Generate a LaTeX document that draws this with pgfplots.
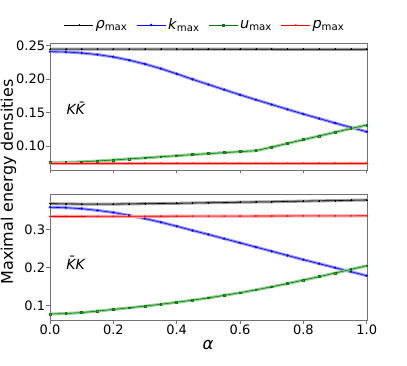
\documentclass[border=0pt]{standalone}
\usepackage{fontspec}
\setmainfont{DejaVu Sans}
\usepackage{pgfplots}
\pgfplotsset{compat=1.18}
\usepackage{pgfplotstable}

% K Kbar (top panel)
\pgfplotstableread{
a    rho    k      u      p
0.00 0.2450 0.2412 0.0750 0.0742
0.05 0.2450 0.2407 0.0754 0.0742
0.10 0.2450 0.2392 0.0762 0.0742
0.15 0.2450 0.2368 0.0775 0.0742
0.20 0.2449 0.2333 0.0790 0.0742
0.25 0.2449 0.2284 0.0806 0.0742
0.30 0.2449 0.2226 0.0822 0.0742
0.35 0.2449 0.2158 0.0838 0.0742
0.40 0.2449 0.2080 0.0854 0.0742
0.45 0.2448 0.1998 0.0870 0.0742
0.50 0.2448 0.1920 0.0885 0.0742
0.55 0.2448 0.1843 0.0900 0.0742
0.60 0.2448 0.1766 0.0915 0.0742
0.65 0.2448 0.1692 0.0929 0.0742
0.70 0.2448 0.1620 0.0982 0.0742
0.75 0.2447 0.1548 0.1038 0.0742
0.80 0.2447 0.1478 0.1094 0.0742
0.85 0.2447 0.1410 0.1150 0.0742
0.90 0.2447 0.1343 0.1205 0.0742
0.95 0.2447 0.1277 0.1260 0.0742
1.00 0.2447 0.1213 0.1313 0.0742
}\topdata

% Kbar K (bottom panel)
\pgfplotstableread{
a    rho    k      u      p
0.00 0.3670 0.3576 0.0783 0.3335
0.05 0.3665 0.3565 0.0795 0.3335
0.10 0.3660 0.3540 0.0820 0.3336
0.15 0.3660 0.3495 0.0860 0.3337
0.20 0.3660 0.3440 0.0903 0.3338
0.25 0.3665 0.3365 0.0945 0.3339
0.30 0.3670 0.3280 0.0990 0.3340
0.35 0.3675 0.3185 0.1038 0.3341
0.40 0.3680 0.3080 0.1089 0.3342
0.45 0.3688 0.2970 0.1145 0.3343
0.50 0.3695 0.2865 0.1205 0.3344
0.55 0.3700 0.2755 0.1270 0.3345
0.60 0.3710 0.2645 0.1340 0.3346
0.65 0.3715 0.2535 0.1415 0.3347
0.70 0.3720 0.2425 0.1495 0.3348
0.75 0.3730 0.2315 0.1580 0.3349
0.80 0.3737 0.2205 0.1670 0.3350
0.85 0.3745 0.2100 0.1760 0.3351
0.90 0.3750 0.1995 0.1855 0.3352
0.95 0.3760 0.1890 0.1950 0.3353
1.00 0.3767 0.1785 0.2045 0.3354
}\botdata

% thick pale band plus thin line with marks
\newcommand\series[4]{%
  \addplot[#1!40, line width=3pt, forget plot] table[x=a, y=#3] {#4};
  \addplot[#1, line width=0.6pt, mark=#2, mark size=0.9pt] table[x=a, y=#3] {#4};
}

\begin{document}
\fontsize{13}{15}\selectfont
\begin{tikzpicture}
\useasboundingbox (0pt,0pt) rectangle (407pt,-366pt);
\pgfplotsset{
  panel/.style={
    scale only axis, anchor=south west,
    width=316.7pt,
    xmin=0, xmax=1,
    xtick={0,0.2,0.4,0.6,0.8,1},
    axis line style={black!55},
    tick style={black!55, line width=0.6pt},
    major tick length=3.5pt,
    tick align=outside,
    xtick pos=left, ytick pos=left,
    ticklabel style={font=\fontsize{13}{15}\selectfont, inner sep=1.2pt},
    /pgf/number format/assume math mode=true,
    clip=true,
  },
}

\begin{axis}[panel, at={(50pt,-170pt)}, height=126.7pt,
  ymin=0.064, ymax=0.2537,
  ytick={0.10,0.15,0.20,0.25},
  yticklabel style={/pgf/number format/.cd, fixed, fixed zerofill, precision=2},
  xticklabels={},
  legend style={at={(0.49,1.144)}, anchor=center, draw=none, fill=none,
    legend columns=4, font=\fontsize{14.5}{16}\selectfont,
    /tikz/every even column/.append style={column sep=7pt}},
  legend image code/.code={%
    \draw[mark repeat=2, mark phase=2, #1]
      plot coordinates {(0pt,0pt) (14.5pt,0pt) (29pt,0pt)};},
  legend cell align=left,
]
\series{black}{+}{rho}{\topdata}
\series{blue}{o}{k}{\topdata}
\series{green!50!black}{square}{u}{\topdata}
\series{red}{x}{p}{\topdata}
\legend{\textit{ρ}\textsubscript{max}, \textit{k}\textsubscript{max},
        \textit{u}\textsubscript{max}, \textit{p}\textsubscript{max}}
\node[font=\fontsize{14}{16}\selectfont] at (rel axis cs:0.082,0.487) {\textit{K\=K}};
\end{axis}

\begin{axis}[panel, at={(50pt,-320pt)}, height=125.7pt,
  ymin=0.0626, ymax=0.3916,
  ytick={0.1,0.2,0.3},
  yticklabel style={/pgf/number format/.cd, fixed, fixed zerofill, precision=1},
  xticklabel style={/pgf/number format/.cd, fixed, fixed zerofill, precision=1},
]
\series{black}{+}{rho}{\botdata}
\series{blue}{o}{k}{\botdata}
\series{green!50!black}{square}{u}{\botdata}
\series{red}{x}{p}{\botdata}
\node[font=\fontsize{14}{16}\selectfont] at (rel axis cs:0.082,0.456) {\textit{\=KK}};
\end{axis}

\node[rotate=90, font=\fontsize{16}{18}\selectfont] at (8.5pt,-182pt) {Maximal energy densities};
\node[font=\fontsize{16.5}{18}\selectfont] at (208pt,-345pt) {\textit{α}};
\end{tikzpicture}
\end{document}
